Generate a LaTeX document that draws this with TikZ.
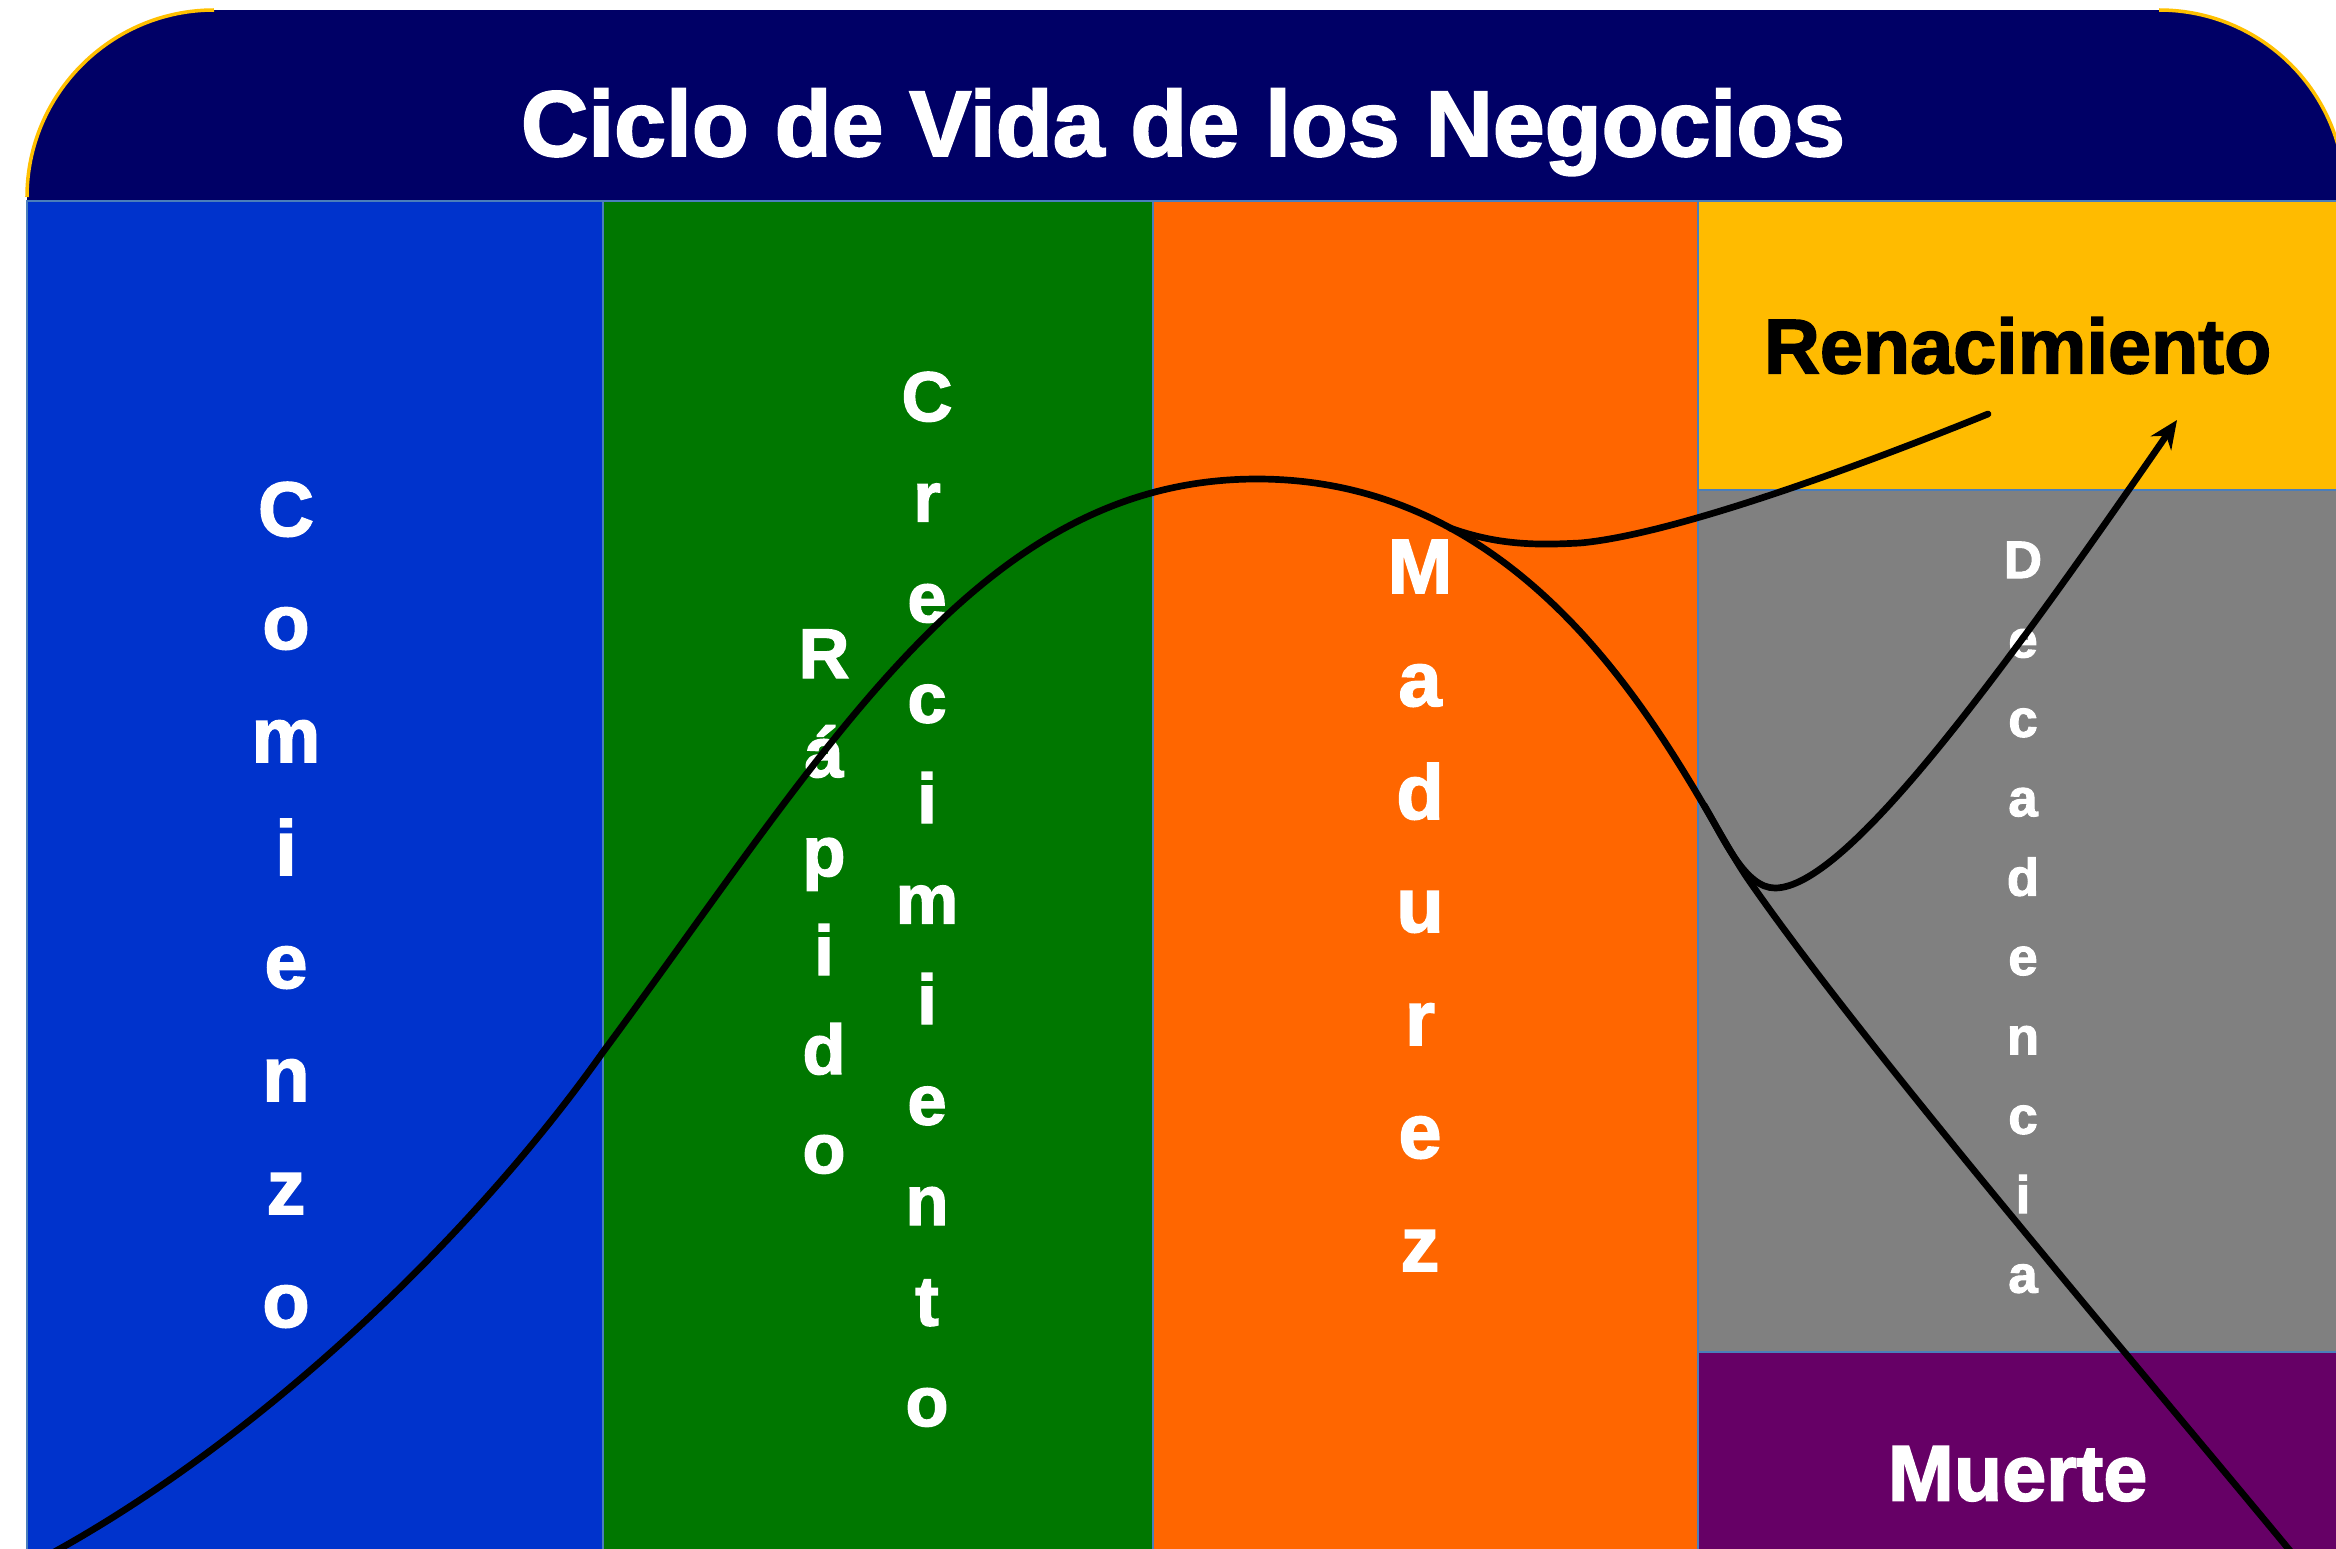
\documentclass[tikz,border=0pt]{standalone}
\usepackage{fontspec}
\setmainfont{Liberation Sans}[BoldFeatures={FakeBold=2}]
\usetikzlibrary{positioning}
\usetikzlibrary{arrows.meta}

\definecolor{navyhead}{HTML}{000066}
\definecolor{goldline}{HTML}{FFC000}
\definecolor{edgeblue}{HTML}{4A7EBB}
\definecolor{cblue}{HTML}{0033CC}
\definecolor{cgreen}{HTML}{007700}
\definecolor{corange}{HTML}{FF6600}
\definecolor{cyellow}{HTML}{FFBB00}
\definecolor{cgray}{HTML}{808080}
\definecolor{cpurple}{HTML}{660066}

\begin{document}
\begin{tikzpicture}[x=0.01cm, y=-0.01cm,
	band/.style={draw=edgeblue, line width=0.6pt, inner sep=0pt, outer sep=0pt},
	vletter/.style={anchor=base, text=white, inner sep=0pt, font=\bfseries\fontsize{#1}{#1}\selectfont},
	vletter/.default=22,
	curve/.style={line width=1.9pt, line cap=round}]
	\clip (0,0) rectangle (2336,1548);

	% cabecera
	\fill[navyhead] (27,201) -- (27,197) .. controls (27,94) and (111,10) .. (214,10)
		-- (2159,10) .. controls (2262,10) and (2345,93) .. (2345,196) -- (2345,201) -- cycle;
	\draw[goldline, line width=1pt] (27,197) .. controls (27,94) and (111,10) .. (214,10);
	\draw[goldline, line width=1pt] (2159,10) .. controls (2262,10) and (2345,93) .. (2345,196);
	\node[anchor=base, text=white, font=\bfseries\fontsize{26.5}{30}\selectfont] (titulo) at (1183,156) {Ciclo de Vida de los Negocios};

	% etapas
	\node [band, fill=cblue, minimum width=5.76cm, minimum height=13.6cm, anchor=north west] (comienzo) at (27,201) {};
	\node [band, fill=cgreen, minimum width=5.49cm, minimum height=13.6cm, right=0pt of comienzo] (rapido) {};
	\node [band, fill=corange, minimum width=5.45cm, minimum height=13.6cm, right=0pt of rapido] (madurez) {};
	\node [band, fill=cyellow, minimum width=6.39cm, minimum height=2.89cm, anchor=north west,
		font=\bfseries\fontsize{22}{26}\selectfont] (renacimiento) at (madurez.north east) {Renacimiento};
	\node [band, fill=cgray, minimum width=6.39cm, minimum height=8.61cm, below=0pt of renacimiento] (decadencia) {};
	\node [band, fill=cpurple, minimum width=6.39cm, minimum height=2.44cm, below=0pt of decadencia,
		text=white, font=\bfseries\fontsize{22.5}{26}\selectfont] (muerte) {Muerte};

	% letras verticales
	\foreach \l [count=\i from 0] in {C,o,m,i,e,n,z,o}
		\node [vletter] (com\i) at (286,536+113*\i) {\l};
	\foreach \l [count=\i from 0] in {R,á,p,i,d,o}
		\node [vletter=20] (rap\i) at (824,678+99*\i) {\l};
	\foreach \l [count=\i from 0] in {C,r,e,c,i,m,i,e,n,t,o}
		\node [vletter=20] (cre\i) at (927,421+100.5*\i) {\l};
	\foreach \l [count=\i from 0] in {M,a,d,u,r,e,z}
		\node [vletter] (mad\i) at (1420,593+113*\i) {\l};
	\foreach \l [count=\i from 0] in {D,e,c,a,d,e,n,c,i,a}
		\node [vletter=15] (dec\i) at (2023,578+79.4*\i) {\l};

	% curva del ciclo
	\coordinate (inicio) at (30,1565);
	\coordinate (cima) at (1257,479);
	\coordinate (caida) at (1748,879);
	\coordinate (fin) at (2310,1575);
	\draw[curve] (inicio) .. controls (250,1450) and (470,1240) .. (603,1052)
		.. controls (830,745) and (980,479) .. (cima)
		.. controls (1560,479) and (1690,795) .. (caida)
		.. controls (1868,1053) and (2160,1392) .. (fin);
	% ramas
	\coordinate (salida) at (1450,528);
	\coordinate (desvio) at (1704,805);
	\coordinate (fondo) at (1775,888);
	\draw[curve] (salida) .. controls (1500,546) and (1540,545) .. (1580,543)
		.. controls (1670,535) and (1850,470) .. (1988,414);
	\draw[curve, -{Stealth[length=8pt, width=7pt]}] (desvio) .. controls (1724,839) and (1745,888) .. (fondo)
		.. controls (1845,888) and (1997,681) .. (2177,420);
\end{tikzpicture}
\end{document}
